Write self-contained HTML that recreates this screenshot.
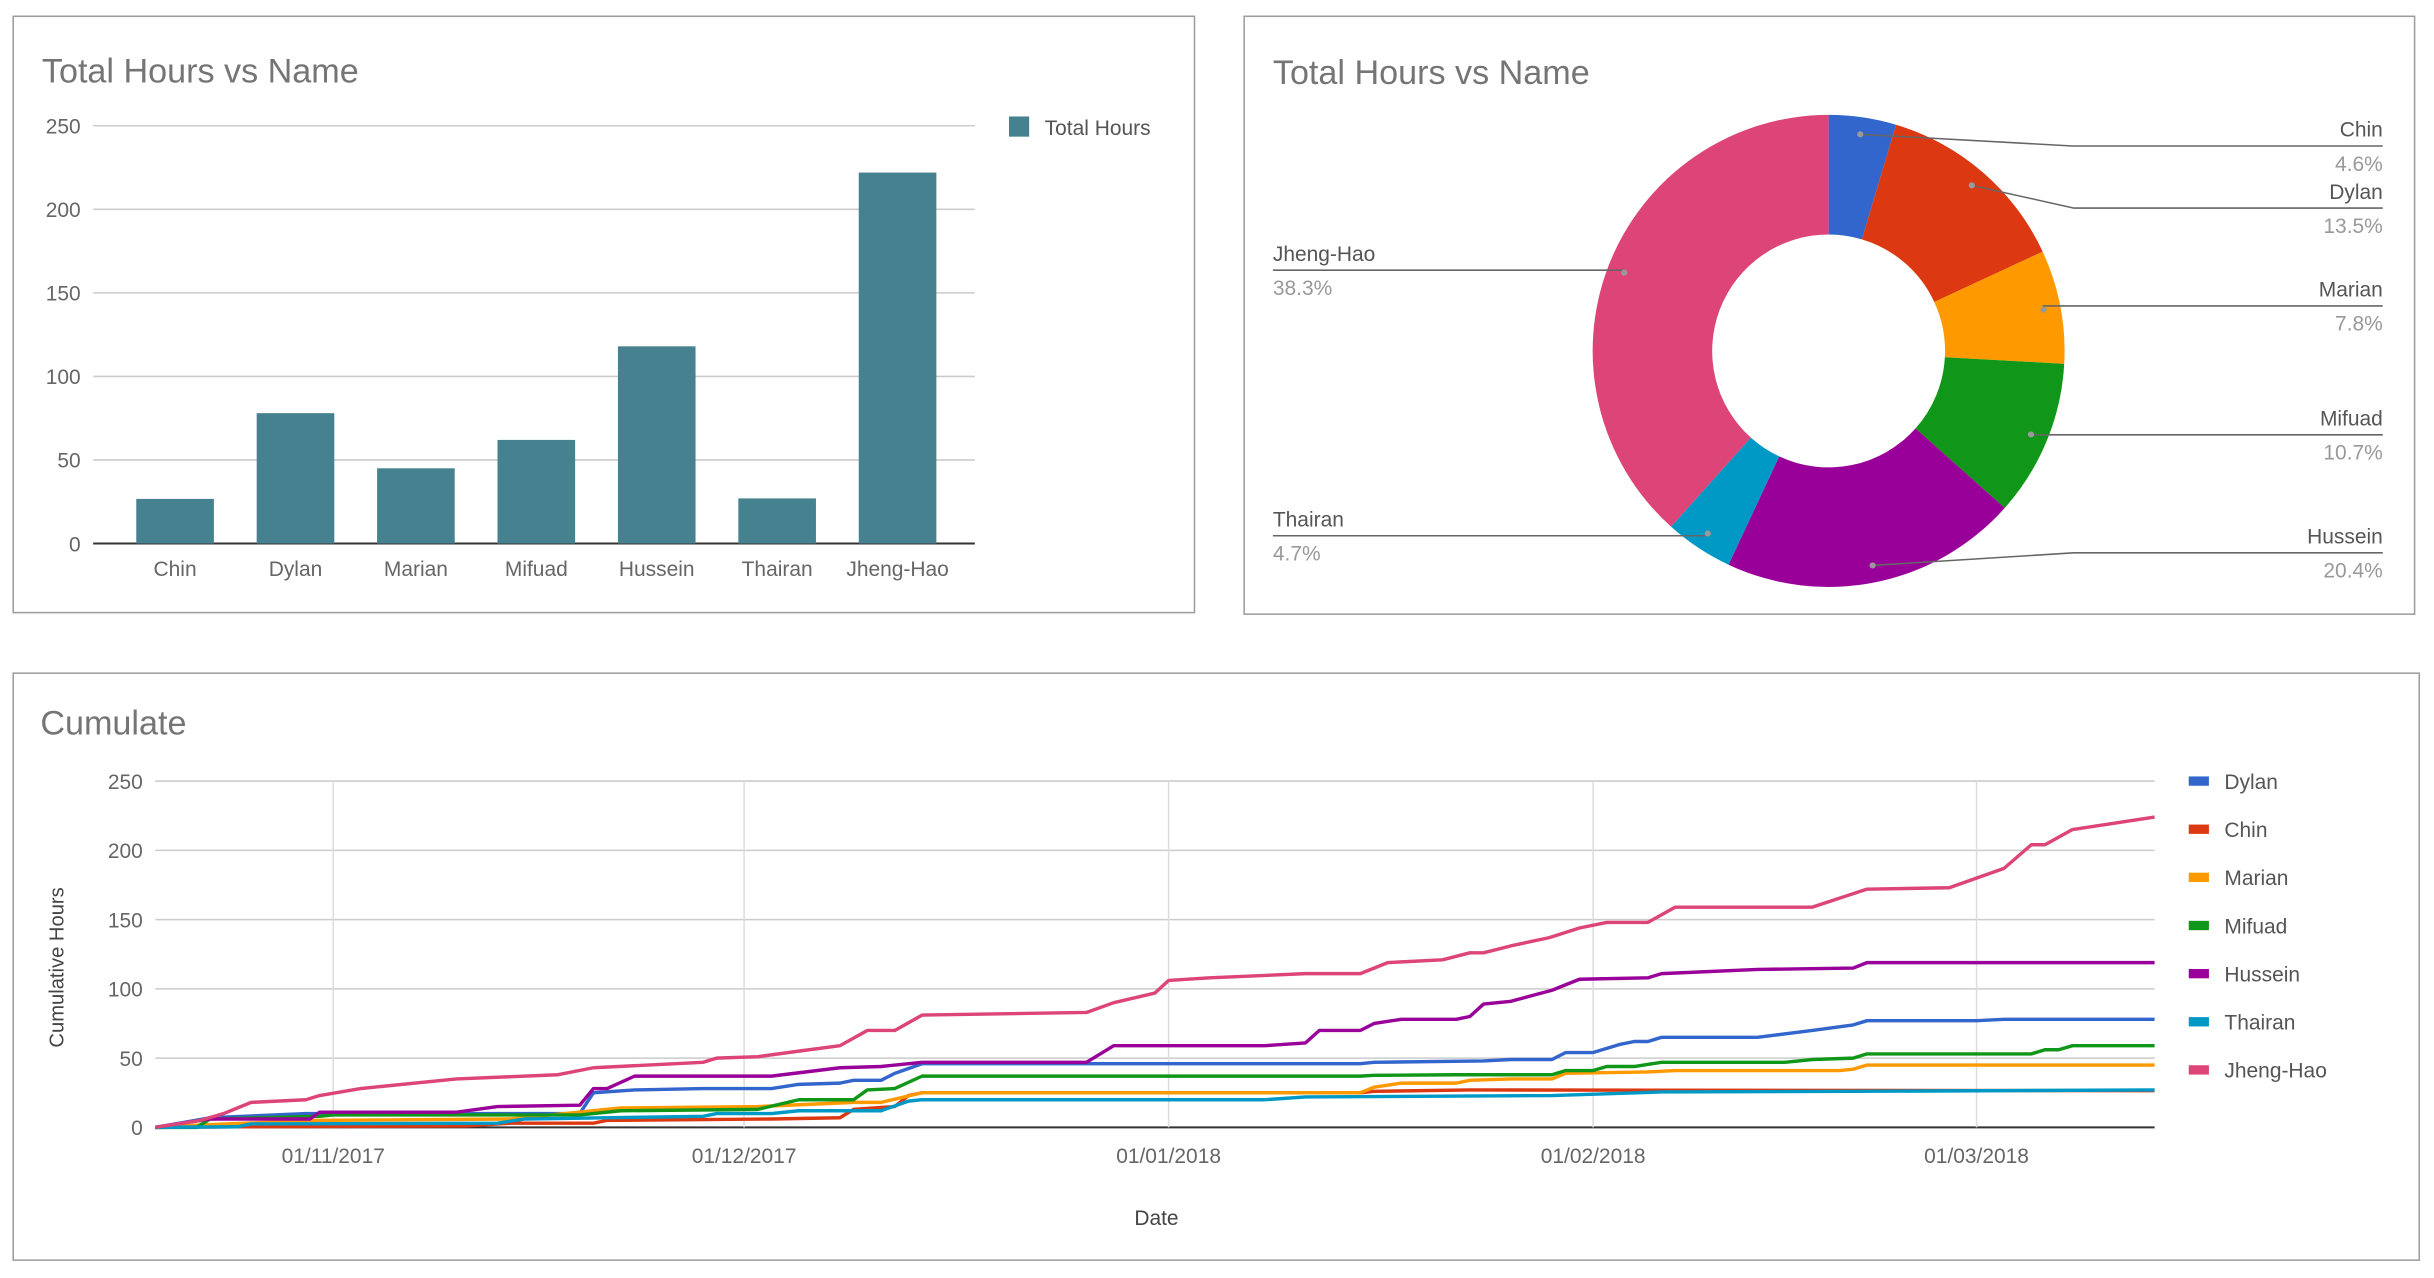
<!DOCTYPE html>
<html><head><meta charset="utf-8"><style>
html,body{margin:0;padding:0;background:#fff;}
svg{display:block;font-family:"Liberation Sans",sans-serif;}
</style></head><body>
<svg id="s" width="2434" height="1278" viewBox="0 0 1568 823" preserveAspectRatio="none" xmlns="http://www.w3.org/2000/svg">
<rect x="8.5" y="10.5" width="761" height="384" fill="#fff" stroke="#9e9e9e"/>
<rect x="801.5" y="10.5" width="754" height="385" fill="#fff" stroke="#9e9e9e"/>
<rect x="8.5" y="433.5" width="1550" height="378" fill="#fff" stroke="#9e9e9e"/>
<text x="27" y="53" font-size="22" fill="#757575">Total Hours vs Name</text>
<text x="820" y="54" font-size="22" fill="#757575">Total Hours vs Name</text>
<text x="26" y="473" font-size="22" fill="#757575">Cumulate</text>
<g id="bar"></g><g id="pie"></g><g id="line"></g>
</svg>
<script>
const names=["Chin","Dylan","Marian","Mifuad","Hussein","Thairan","Jheng-Hao"];
const totals=[26.7,78,45,62,118,27,222];
const barTicks=[0,50,100,150,200,250];
const pieColors=["#3366cc","#dc3912","#ff9900","#109618","#990099","#0099c6","#dd4477"];
const pieLabels=["4.6%","13.5%","7.8%","10.7%","20.4%","4.7%","38.3%"];
const seriesNames=["Dylan","Chin","Marian","Mifuad","Hussein","Thairan","Jheng-Hao"];
const seriesColors=["#3366cc","#dc3912","#ff9900","#109618","#990099","#0099c6","#dd4477"];
const lineTicks=[0,50,100,150,200,250];
const dateTicks=["01/11/2017","01/12/2017","01/01/2018","01/02/2018","01/03/2018"];
const dateTickDays=[13,43,74,105,133];
const dylan=[[0,0],[4,7],[11,10],[31,10],[32,25],[35,27],[40,28],[45,28],[47,31],[50,32],[51,34],[53,34],[54,39],[56,46],[88,46],[89,47],[97,48],[99,49],[102,49],[103,54],[105,54],[107,60],[108,62],[109,62],[110,65],[117,65],[121,70],[124,74],[125,77],[133,77],[135,78],[146,78]];
const chin=[[0,0],[6,0.5],[22.6,1],[26,3],[32,3],[33,5],[45,6],[50,7],[51,13],[54,15],[55,23],[56,25],[88,25],[89,26],[96,27],[146,26.5]];
const marian=[[0,0],[4,2],[12,5],[26,6],[34,14],[44,15],[51,18],[53,18],[56,25],[88,25],[89,29],[91,32],[95,32],[96,34],[99,35],[102,35],[103,39],[109,40],[111,41],[123,41],[124,42],[125,45],[146,45]];
const mifuad=[[0,0],[3,0],[4,6],[12,8],[13,9],[31,9],[34,12],[44,13],[47,20],[51,20],[52,27],[54,28],[56,37],[88,37],[89,37.5],[95,38],[96,38],[102,38],[103,41],[105,41],[106,44],[108,44],[110,47],[119,47],[121,49],[124,50],[125,53],[137,53],[138,56],[139,56],[140,59],[146,59]];
const hussein=[[0,0],[4,6],[11.3,6],[12,11],[22,11],[25,15],[31,16],[32,28],[33,28],[35,37],[45,37],[50,43],[53,44],[56,47],[68,47],[70,59],[81,59],[84,61],[85,70],[88,70],[89,75],[91,78],[95,78],[96,80],[97,89],[99,91],[102,99],[104,107],[109,108],[110,111],[117,114],[124,115],[125,119],[146,119]];
const thairan=[[0,0],[6,0.5],[7,2.5],[25,3],[27,6],[40,8],[41,10],[45,10],[47,12],[53,12],[55,19],[56,20],[81,20],[84,22],[102,23],[110,25.6],[124,26],[146,27]];
const jheng=[[0,0],[3.3,5],[5,10],[7,18],[11,20],[12,23],[15,28],[22,35],[29.4,38],[32,43],[40,47],[41,50],[44,51],[47,55],[50,59],[52,70],[54,70],[56,81],[68,83],[70,90],[73,97],[74,106],[77,108],[84,111],[88,111],[90,119],[94,121],[96,126],[97,126],[99,131],[101.8,137],[104,144],[106,148],[109,148],[111,159],[121,159],[125,172],[131,173],[135,187],[137,204],[138,204],[140,215],[146,224]];
const allSeries=[dylan,chin,marian,mifuad,hussein,thairan,jheng];
const NS="http://www.w3.org/2000/svg";
function mk(parent,tag,attrs,txt){const e=document.createElementNS(NS,tag);for(const k in attrs)e.setAttribute(k,attrs[k]);if(txt!==undefined)e.textContent=txt;parent.appendChild(e);return e;}
// Bar chart
const bg=document.getElementById('bar');
const bx0=60,bx1=628,by0=350,by1=81,band0=74,band1=617;
const byS=v=>by0-(v/250)*(by0-by1);
const bStep=(band1-band0)/names.length;
barTicks.forEach(t=>{
 const l=mk(bg,'line',{x1:bx0,x2:bx1,y1:byS(t),y2:byS(t),stroke:t===0?'#333':'#ccc','stroke-width':t===0?1.3:1});
 
 
 const tx=mk(bg,'text',{x:52,y:byS(t)+5,'font-size':13.5,fill:'#666','text-anchor':'end'},String(t));
 
 
});
names.forEach((n,i)=>{
 const cx=band0+bStep*(i+0.5);
 const r=mk(bg,'rect',{x:cx-25,y:byS(totals[i]),width:50,height:by0-byS(totals[i]),fill:'#45818e'});
 
 
 const t=mk(bg,'text',{x:cx,y:371,'font-size':13.5,fill:'#666','text-anchor':'middle'},n);
 
 
});
const lsw=mk(bg,'rect',{x:650,y:75,width:13,height:13,fill:'#45818e'});


const ltx=mk(bg,'text',{x:673,y:87,'font-size':13.5,fill:'#555'},'Total Hours');


// Pie
const pg=document.getElementById('pie');
const pcx=1178,pcy=226,R=152,r0=75;
const sum=totals.reduce((a,b)=>a+b,0);
let ang=0;
const anchors=[];
totals.forEach((v,i)=>{
 const a0=ang,a1=ang+v/sum*2*Math.PI;ang=a1;
 const P=(a,rr)=>[pcx+rr*Math.sin(a),pcy-rr*Math.cos(a)];
 const big=(a1-a0)>Math.PI?1:0;
 const p1=P(a0,R),p2=P(a1,R),p3=P(a1,r0),p4=P(a0,r0);
 const d=`M${p1}A${R},${R} 0 ${big} 1 ${p2}L${p3}A${r0},${r0} 0 ${big} 0 ${p4}Z`;
 const s=mk(pg,'path',{d:d,fill:pieColors[i]});
 
 
 anchors.push(P((a0+a1)/2,R-11));
});
const labY=[94,134,197,280,356,345,174];
const bendX=[1335,1336,null,null,1336,null,null];
anchors.forEach((p,i)=>{
 const left=(i>=5);
 const ex=left?820:1535;
 let pts=p[0]+','+p[1]+' ';
 if(bendX[i])pts+=bendX[i]+','+labY[i]+' ';else pts+=p[0]+','+labY[i]+' ';
 pts+=ex+','+labY[i];
 const pl=mk(pg,'polyline',{points:pts,fill:'none',stroke:'#666','stroke-width':1});
 
 
 const dot=mk(pg,'circle',{cx:p[0],cy:p[1],r:2,fill:'#999'});
 
 
 const anc=left?'start':'end';
 const t1=mk(pg,'text',{x:ex,y:labY[i]-6,'font-size':13.5,fill:'#555','text-anchor':anc},names[i]);
 
 
 const t2=mk(pg,'text',{x:ex,y:labY[i]+16,'font-size':13.5,fill:'#999','text-anchor':anc},pieLabels[i]);
 
 
});
// Line chart
const lg=document.getElementById('line');
const lx0=100,lx1=1388,ly0=726,ly1=503,dayMax=146;
const lxS=d=>lx0+d/dayMax*(lx1-lx0);
const lyS=v=>ly0-v/250*(ly0-ly1);
lineTicks.forEach(t=>{
 const l=mk(lg,'line',{x1:lx0,x2:lx1,y1:lyS(t),y2:lyS(t),stroke:t===0?'#333':'#ccc','stroke-width':t===0?1.3:1});
 
 
 const tx=mk(lg,'text',{x:92,y:lyS(t)+5,'font-size':13.5,fill:'#666','text-anchor':'end'},String(t));
 
 
});
dateTicks.forEach((d,i)=>{
 const x=lxS(dateTickDays[i]);
 const l=mk(lg,'line',{x1:x,x2:x,y1:ly1,y2:ly0,stroke:'#ddd','stroke-width':1});
 
 
 const tx=mk(lg,'text',{x:x,y:749,'font-size':13.5,fill:'#666','text-anchor':'middle'},d);
 
 
});
allSeries.forEach((s,i)=>{
 const pts=s.map(p=>lxS(p[0]).toFixed(1)+','+lyS(p[1]).toFixed(1)).join(' ');
 const pl=mk(lg,'polyline',{points:pts,fill:'none',stroke:seriesColors[i],'stroke-width':2.2,'stroke-linejoin':'round'});
 
 
 const y=503+31*i;
 const sw=mk(lg,'rect',{x:1410,y:y-3,width:13,height:6,fill:seriesColors[i]});
 
 
 const tx=mk(lg,'text',{x:1433,y:y+5,'font-size':13.5,fill:'#555'},seriesNames[i]);
 
 
});
const yt=mk(lg,'text',{x:0,y:0,'font-size':13,fill:'#444','text-anchor':'middle',transform:'translate(41,623) rotate(-90)'},'Cumulative Hours');


const xt=mk(lg,'text',{x:745,y:789,'font-size':13.5,fill:'#444','text-anchor':'middle'},'Date');


</script>
</body></html>
